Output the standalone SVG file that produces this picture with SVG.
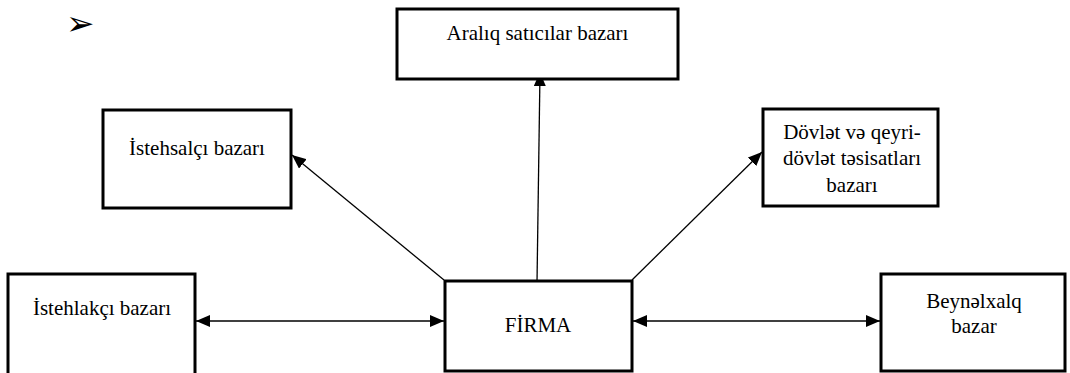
<svg xmlns="http://www.w3.org/2000/svg" width="1070" height="373" viewBox="0 0 1070 373">
  <style>
    .box { fill: #ffffff; stroke: #000000; stroke-width: 3; }
    .lbl { font-family: "Liberation Serif", "DejaVu Serif", serif; font-size: 21px; fill: #000000; text-anchor: middle; }
    .conn { stroke: #000000; stroke-width: 1.3; fill: none; }
  </style>
  <defs>
    <marker id="head" viewBox="0 0 14 12" refX="14" refY="6" markerWidth="14" markerHeight="12" markerUnits="userSpaceOnUse" orient="auto-start-reverse">
      <path d="M0,0 L14,6 L0,12 Z" fill="#000000"/>
    </marker>
  </defs>

  <rect width="1070" height="373" fill="#ffffff"/>

  <!-- bullet mark -->
  <text x="66" y="35" font-family="DejaVu Sans, sans-serif" font-size="34" fill="#000000">➢</text>

  <g id="connectors">
    <line class="conn" x1="537" y1="283" x2="540" y2="72" marker-end="url(#head)"/>
    <line class="conn" x1="444" y1="280" x2="292" y2="155" marker-end="url(#head)"/>
    <line class="conn" x1="632" y1="280" x2="762" y2="152" marker-end="url(#head)"/>
    <line class="conn" x1="196" y1="321" x2="444" y2="321" marker-start="url(#head)" marker-end="url(#head)"/>
    <line class="conn" x1="633" y1="321" x2="880" y2="321" marker-start="url(#head)" marker-end="url(#head)"/>
  </g>

  <g id="node-arali">
    <rect class="box" x="397" y="9" width="281" height="70"/>
    <text class="lbl" x="537.5" y="40">Aralıq satıcılar bazarı</text>
  </g>

  <g id="node-istehsalci">
    <rect class="box" x="103" y="110" width="188" height="98"/>
    <text class="lbl" x="197" y="155">İstehsalçı bazarı</text>
  </g>

  <g id="node-dovlet">
    <rect class="box" x="763" y="109" width="175" height="97"/>
    <text class="lbl" x="852" y="139">Dövlət və qeyri-</text>
    <text class="lbl" x="852" y="165">dövlət təsisatları</text>
    <text class="lbl" x="852" y="192">bazarı</text>
  </g>

  <g id="node-istehlakci">
    <rect class="box" x="8" y="274" width="187" height="110"/>
    <text class="lbl" x="102" y="315">İstehlakçı bazarı</text>
  </g>

  <g id="node-firma">
    <rect class="box" x="445" y="281" width="187" height="90"/>
    <text class="lbl" x="538" y="332">FİRMA</text>
  </g>

  <g id="node-beynelxalq">
    <rect class="box" x="881" y="274" width="184" height="97"/>
    <text class="lbl" x="974" y="308">Beynəlxalq</text>
    <text class="lbl" x="974" y="333">bazar</text>
  </g>
</svg>
